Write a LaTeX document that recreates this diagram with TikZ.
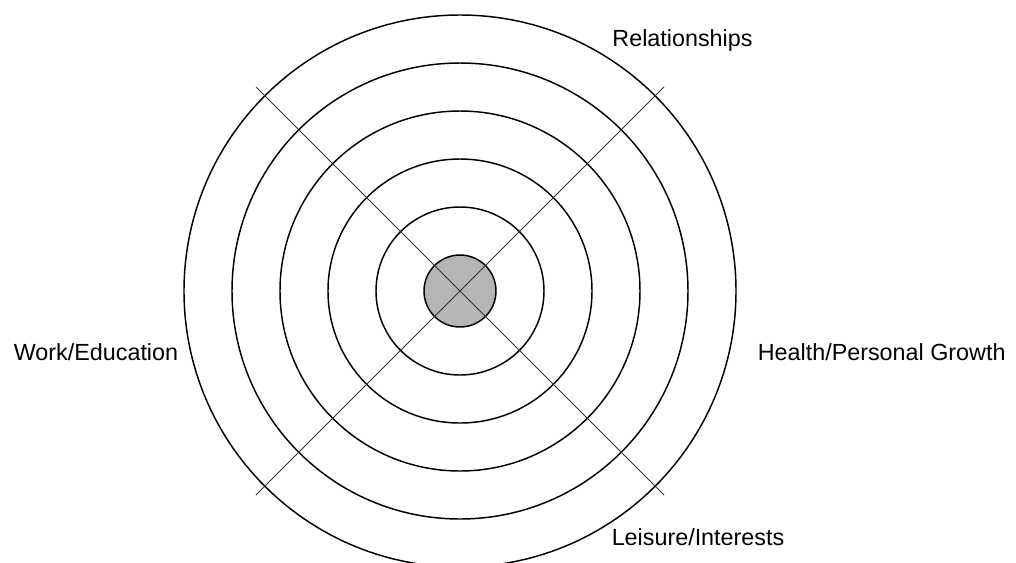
\documentclass[tikz,border=0pt]{standalone}
\usepackage{fontspec}
\setmainfont{Liberation Sans}
\usetikzlibrary{positioning}
\tikzset{ring/.style={black, line width=1.1pt}, spoke/.style={black!80, line width=0.55pt}, area/.style={font=\fontsize{17.5}{21}\selectfont, anchor=base, inner sep=0pt}}

\begin{document}
\begin{tikzpicture}[x=0.75pt,y=0.75pt]
\useasboundingbox (-460,-271) rectangle (556,291);
\draw[ring] (0,0) circle (276);
\draw[ring] (0,0) circle (228);
\draw[ring] (0,0) circle (180);
\draw[ring] (0,0) circle (132);
\draw[ring] (0,0) circle (84);
\coordinate (nw) at (-204,204);
\coordinate (ne) at (204,204);
\coordinate (sw) at (-204,-204);
\coordinate (se) at (204,-204);
\node[ring, draw, fill=black!29, circle, minimum size=72*0.75pt, inner sep=0pt] (hub) at (0,0) {};
\draw[spoke] (nw) -- (se);
\draw[spoke] (ne) -- (sw);
\node[area] (rel) at (222.5,245) {Relationships};
\node[area] (work) at (-364,-69) {Work/Education};
\node[area] (health) at (421.7,-69) {Health/Personal Growth};
\node[area] (leisure) at (238,-254.7) {Leisure/Interests};
\end{tikzpicture}
\end{document}
